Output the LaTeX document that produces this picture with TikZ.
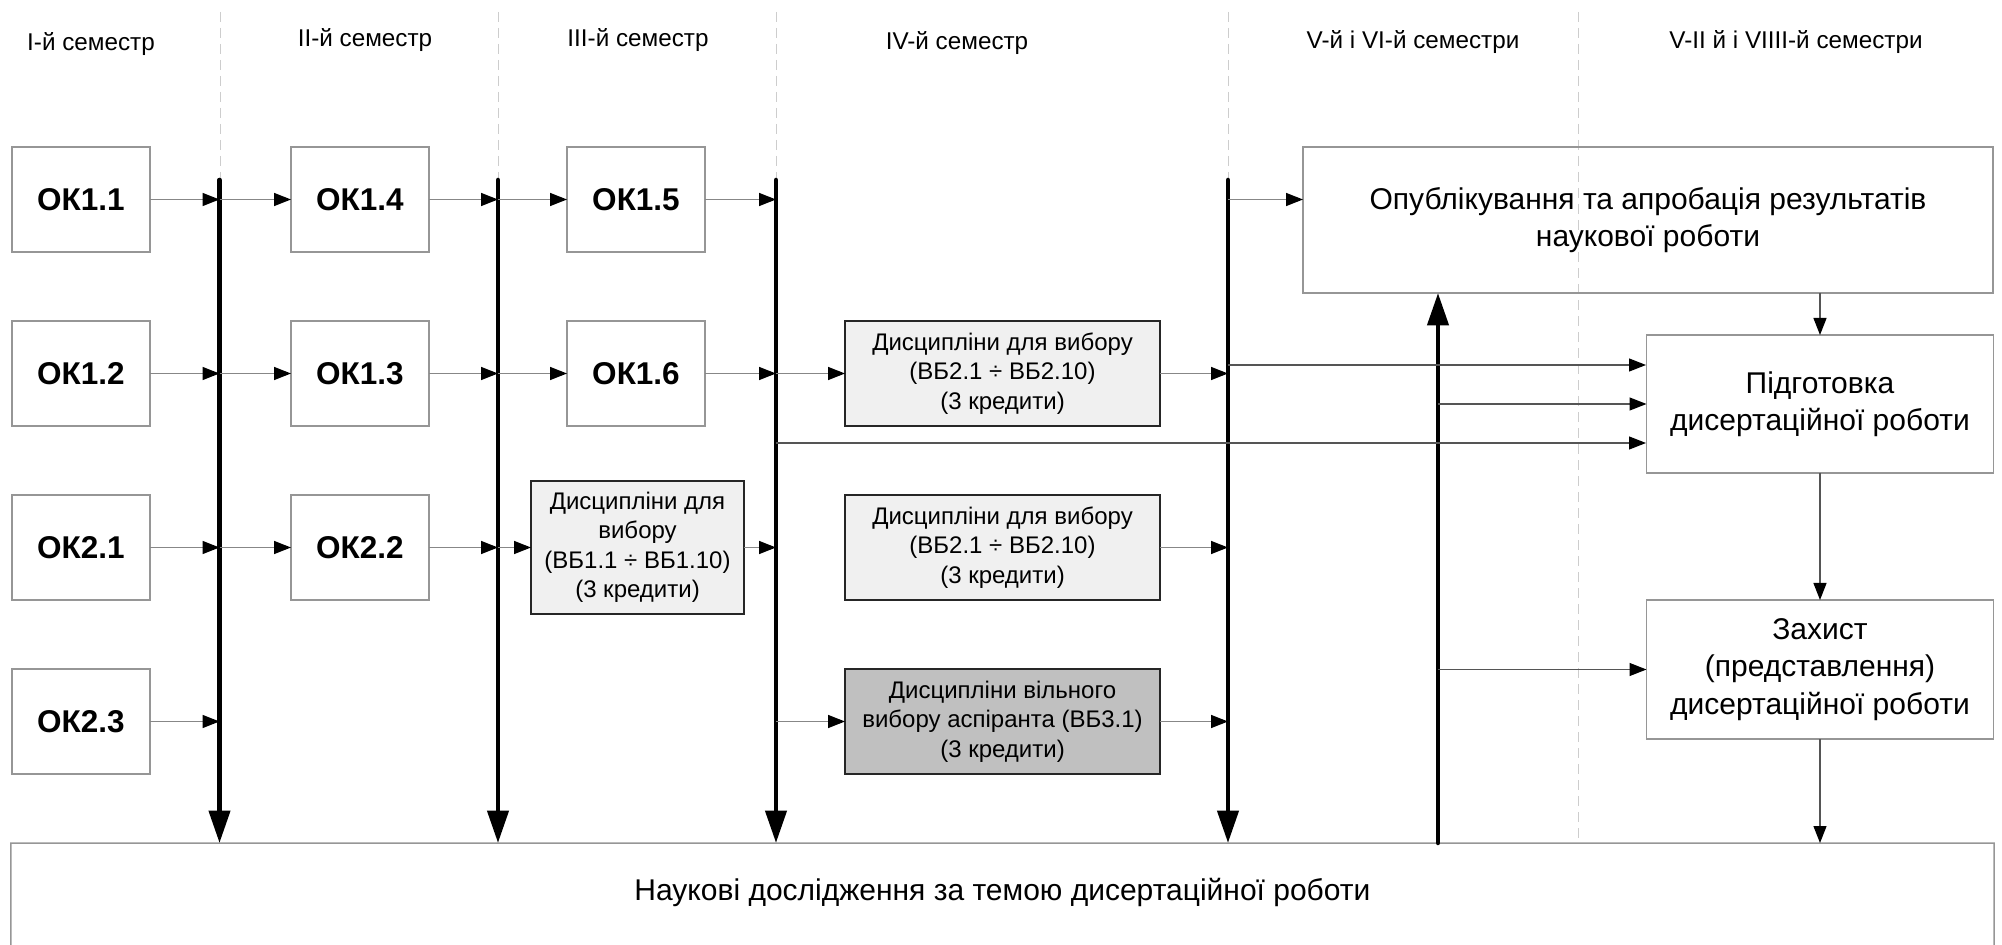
\documentclass[tikz,border=0pt]{standalone}
\usepackage{fontspec}
\setmainfont{Liberation Sans}
\usetikzlibrary{arrows.meta}
\definecolor{boxgray}{RGB}{150,150,150}
\definecolor{lineg}{RGB}{135,135,135}
\definecolor{lined}{RGB}{85,85,85}
\definecolor{guidegray}{RGB}{205,205,205}
\definecolor{bblight}{RGB}{240,240,240}
\definecolor{bbdark}{RGB}{192,192,192}
\begin{document}
\begin{tikzpicture}[x=0.4pt,y=-0.4pt,
  okbox/.style={draw=boxgray, line width=0.6pt, minimum width=55.2pt, minimum height=42pt, inner sep=0pt, outer sep=0pt, font=\fontsize{12.6}{15}\selectfont\bfseries},
  bbbox/.style={draw=black!85, line width=1.1pt, fill=bblight, inner sep=0pt, outer sep=0pt, align=center, minimum width=126pt, minimum height=42pt, font=\fontsize{9.6}{11.8}\selectfont},
  bigbox/.style={draw=boxgray, line width=0.6pt, inner sep=0pt, outer sep=0pt, align=center, font=\fontsize{12}{15}\selectfont},
  hdr/.style={inner sep=0pt, font=\fontsize{9.7}{12}\selectfont},
  conn/.style={draw=lineg, line width=0.6pt, -{Triangle[length=6.8pt,width=5.2pt,color=black]}},
  connd/.style={draw=lined, line width=0.5pt, -{Triangle[length=6.8pt,width=5.2pt,color=black]}},
  thickarr/.style={draw=black, line width=1.8pt, line cap=round, -{Triangle[length=13pt,width=8.4pt]}},
  guide/.style={draw=guidegray, line width=0.4pt, dash pattern=on 4pt off 2.4pt}
]
\useasboundingbox (0,0) rectangle (2002,945);

% column guides
\foreach \gx in {220,498,776,1228,1578} \draw[guide] (\gx,12) -- (\gx,838);

% headers
\node[hdr] (h1) at (91,44) {I-й семестр};
\node[hdr] (h2) at (365,40) {II-й семестр};
\node[hdr] (h3) at (638,40) {III-й семестр};
\node[hdr] (h4) at (957,43) {IV-й семестр};
\node[hdr] (h5) at (1413,42) {V-й і VI-й семестри};
\node[hdr] (h6) at (1796,42) {V-II й і VIIII-й семестри};

% OK boxes
\node[okbox] (ok11) at (81,199.5) {ОК1.1};
\node[okbox] (ok12) at (81,373.5) {ОК1.2};
\node[okbox] (ok21) at (81,547.5) {ОК2.1};
\node[okbox] (ok23) at (81,721.5) {ОК2.3};
\node[okbox] (ok14) at (360,199.5) {ОК1.4};
\node[okbox] (ok13) at (360,373.5) {ОК1.3};
\node[okbox] (ok22) at (360,547.5) {ОК2.2};
\node[okbox] (ok15) at (636,199.5) {ОК1.5};
\node[okbox] (ok16) at (636,373.5) {ОК1.6};

% elective boxes
\node[bbbox, minimum width=85.2pt, minimum height=53.2pt] (bb1) at (637.5,547.5) {Дисципліни для\\вибору\\(ВБ1.1 ÷ ВБ1.10)\\(3 кредити)};
\node[bbbox] (bb2a) at (1002.5,373.5) {Дисципліни для вибору\\(ВБ2.1 ÷ ВБ2.10)\\(3 кредити)};
\node[bbbox] (bb2b) at (1002.5,547.5) {Дисципліни для вибору\\(ВБ2.1 ÷ ВБ2.10)\\(3 кредити)};
\node[bbbox, fill=bbdark] (bb3) at (1002.5,721.5) {Дисципліни вільного\\вибору аспіранта (ВБ3.1)\\(3 кредити)};

% right boxes
\node[bigbox, minimum width=276pt, minimum height=58.4pt] (pub) at (1648,220) {Опублікування та апробація результатів\\наукової роботи};
\node[bigbox, minimum width=138.8pt, minimum height=55.2pt] (pidg) at (1820,404) {Підготовка\\дисертаційної роботи};
\node[bigbox, minimum width=138.8pt, minimum height=55.6pt] (zah) at (1820,669.5) {Захист\\(представлення)\\дисертаційної роботи};

% research box (open at the bottom)
\node[bigbox, draw=none, minimum width=793.2pt, minimum height=39.2pt] (big) at (1002.5,892) {Наукові дослідження за темою дисертаційної роботи};
\coordinate (bigbl) at (11,960);
\coordinate (bigbr) at (1994,960);
\draw[boxgray, line width=0.6pt] (bigbl) -- (big.north west) -- (big.north east) -- (bigbr);

% thick semester bars
\coordinate (L1) at (219.5,180);
\coordinate (L2) at (498,180);
\coordinate (L3) at (776,180);
\coordinate (L4) at (1228,180);
\coordinate (U) at (1438,843);
\foreach \l in {L1,L2,L3,L4} \draw[thickarr] (\l) -- (\l |- big.north);
\draw[thickarr] (U) -- (U |- pub.south);

% row 1
\draw[conn] (ok11.east) -- (ok11.east -| L1);
\draw[conn] (ok14.west -| L1) -- (ok14.west);
\draw[conn] (ok14.east) -- (ok14.east -| L2);
\draw[conn] (ok15.west -| L2) -- (ok15.west);
\draw[conn] (ok15.east) -- (ok15.east -| L3);
\draw[conn] (ok15.east -| L4) -- (ok15.east -| pub.west);
% row 2
\draw[conn] (ok12.east) -- (ok12.east -| L1);
\draw[conn] (ok13.west -| L1) -- (ok13.west);
\draw[conn] (ok13.east) -- (ok13.east -| L2);
\draw[conn] (ok16.west -| L2) -- (ok16.west);
\draw[conn] (ok16.east) -- (ok16.east -| L3);
\draw[conn] (bb2a.west -| L3) -- (bb2a.west);
\draw[conn] (bb2a.east) -- (bb2a.east -| L4);
% row 3
\draw[conn] (ok21.east) -- (ok21.east -| L1);
\draw[conn] (ok22.west -| L1) -- (ok22.west);
\draw[conn] (ok22.east) -- (ok22.east -| L2);
\draw[conn] (bb1.west -| L2) -- (bb1.west);
\draw[conn] (bb1.east) -- (bb1.east -| L3);
\draw[conn] (bb2b.east) -- (bb2b.east -| L4);
% row 4
\draw[conn] (ok23.east) -- (ok23.east -| L1);
\draw[conn] (bb3.west -| L3) -- (bb3.west);
\draw[conn] (bb3.east) -- (bb3.east -| L4);

% into Підготовка
\coordinate (pin1) at (1646,365);
\coordinate (pin3) at (1646,443);
\draw[connd] (L4 |- pin1) -- (pin1);
\draw[connd] (U |- pidg.west) -- (pidg.west);
\draw[connd] (L3 |- pin3) -- (pin3);
% right column flow
\draw[connd] (pidg.north |- pub.south) -- (pidg.north);
\draw[connd] (pidg.south) -- (zah.north);
\draw[connd] (U |- zah.west) -- (zah.west);
\draw[connd] (zah.south) -- (zah.south |- big.north);
\end{tikzpicture}
\end{document}
